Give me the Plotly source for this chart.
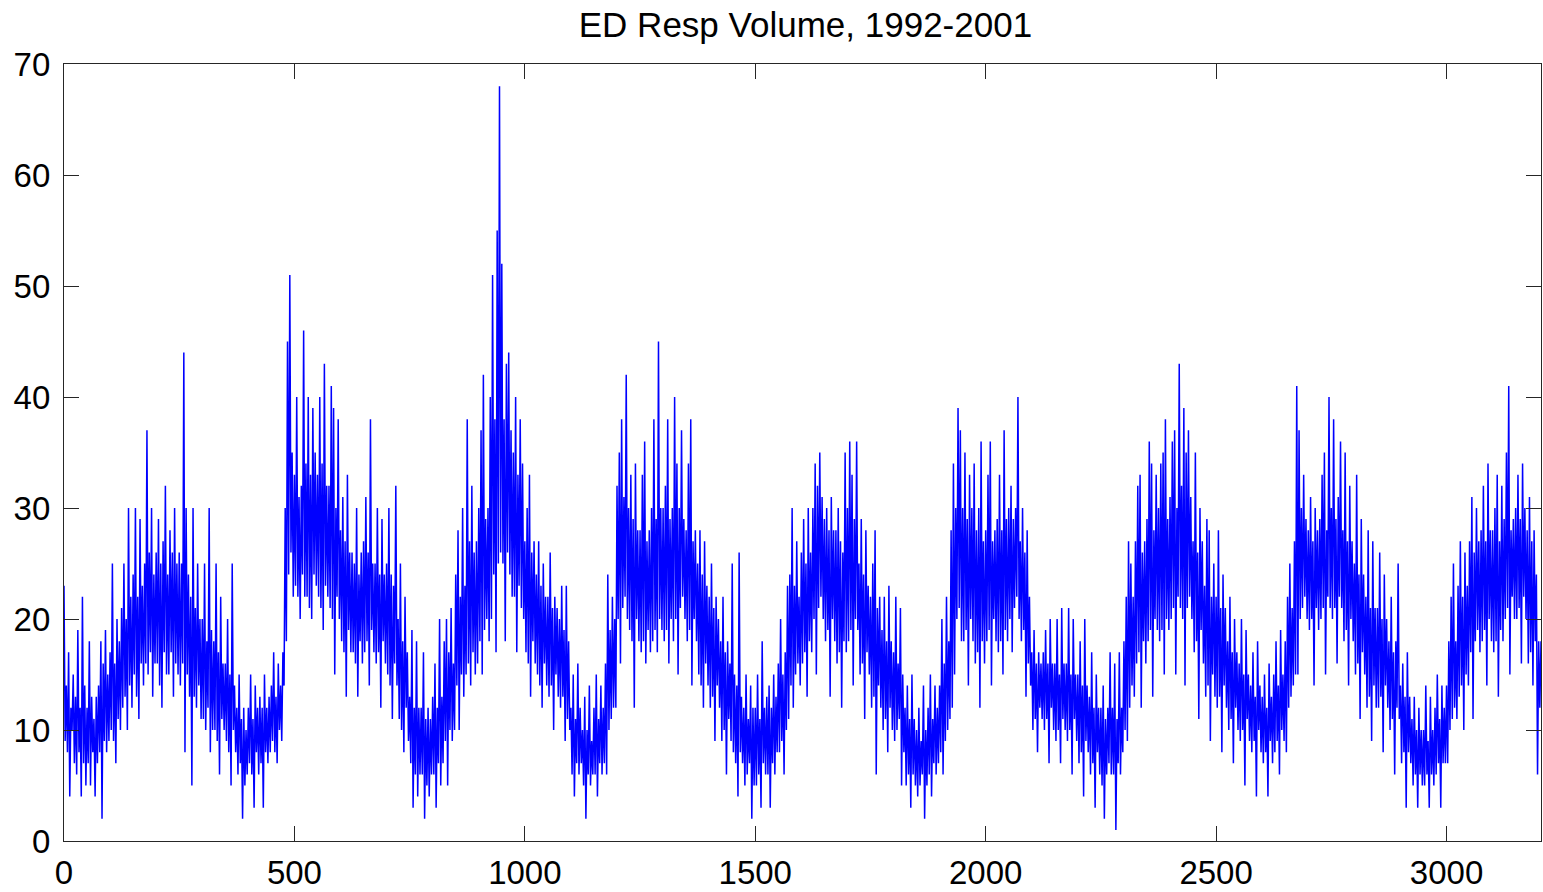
import plotly.graph_objects as go

# ED respiratory volume every 2.5 days (alternating local highs / lows)
volume = [
    23, 9, 14, 8, 17, 4, 12, 10, 15, 7,
    13, 6, 19, 8, 12, 4, 22, 7, 14, 5,
    12, 7, 18, 5, 13, 8, 11, 4, 13, 7,
    14, 8, 18, 2, 16, 9, 19, 8, 15, 9,
    17, 10, 25, 9, 16, 7, 20, 11, 18, 10,
    21, 12, 25, 13, 20, 10, 30, 14, 22, 12,
    24, 15, 30, 13, 22, 11, 29, 16, 23, 14,
    25, 16, 37, 15, 26, 17, 30, 13, 24, 16,
    26, 16, 29, 14, 25, 12, 27, 17, 32, 15,
    24, 15, 28, 17, 26, 13, 30, 16, 25, 15,
    26, 14, 25, 16, 44, 8, 30, 15, 24, 13,
    22, 5, 30, 13, 21, 12, 25, 14, 20, 11,
    20, 11, 25, 10, 18, 12, 30, 8, 19, 10,
    18, 10, 25, 9, 17, 6, 22, 11, 16, 10,
    16, 9, 20, 8, 15, 5, 25, 10, 14, 8,
    12, 6, 15, 7, 11, 2, 12, 5, 10, 6,
    12, 7, 15, 6, 11, 3, 14, 8, 12, 6,
    13, 7, 12, 3, 15, 8, 12, 7, 13, 8,
    14, 9, 17, 8, 13, 7, 16, 10, 14, 9,
    17, 14, 30, 18, 45, 24, 51, 26, 35, 22,
    33, 23, 40, 22, 31, 20, 32, 24, 46, 22,
    34, 22, 40, 21, 33, 20, 39, 24, 35, 23,
    33, 22, 40, 21, 34, 19, 43, 23, 32, 22,
    32, 21, 41, 20, 39, 15, 30, 22, 38, 20,
    28, 18, 31, 17, 27, 13, 33, 19, 26, 17,
    26, 17, 25, 16, 30, 13, 24, 18, 26, 16,
    27, 17, 31, 18, 26, 14, 38, 19, 25, 17,
    25, 16, 30, 17, 24, 12, 29, 18, 24, 16,
    25, 15, 30, 14, 24, 11, 23, 16, 32, 14,
    20, 11, 25, 10, 18, 8, 22, 12, 17, 9,
    13, 7, 19, 3, 12, 6, 18, 4, 12, 6,
    12, 6, 17, 2, 11, 5, 12, 4, 11, 6,
    13, 6, 16, 3, 12, 7, 20, 5, 13, 7,
    18, 9, 20, 5, 17, 10, 21, 9, 16, 10,
    24, 14, 28, 10, 22, 15, 30, 13, 23, 15,
    38, 16, 27, 14, 32, 17, 26, 15, 27, 16,
    30, 18, 37, 15, 42, 19, 29, 20, 30, 18,
    40, 20, 51, 24, 38, 17, 55, 25, 68, 26,
    52, 25, 38, 18, 43, 26, 44, 24, 37, 22,
    35, 22, 40, 17, 33, 23, 38, 21, 34, 20,
    27, 17, 30, 16, 33, 13, 26, 18, 27, 16,
    24, 15, 27, 14, 23, 12, 25, 16, 22, 14,
    22, 13, 26, 14, 21, 10, 22, 15, 21, 13,
    20, 12, 23, 13, 19, 9, 23, 11, 18, 10,
    12, 6, 15, 4, 11, 7, 16, 6, 12, 7,
    10, 5, 13, 2, 10, 6, 14, 5, 9, 6,
    12, 6, 15, 4, 11, 7, 14, 6, 12, 7,
    16, 6, 24, 10, 19, 11, 22, 12, 20, 12,
    32, 20, 35, 16, 38, 21, 31, 22, 42, 20,
    30, 19, 33, 18, 29, 12, 34, 20, 28, 18,
    28, 17, 33, 18, 36, 16, 27, 19, 28, 17,
    30, 18, 38, 19, 29, 17, 45, 20, 30, 19,
    30, 18, 32, 19, 38, 16, 29, 20, 30, 18,
    40, 20, 34, 15, 30, 21, 37, 22, 29, 20,
    28, 18, 34, 19, 38, 14, 27, 20, 28, 18,
    25, 15, 28, 14, 24, 12, 27, 16, 23, 14,
    22, 12, 25, 13, 21, 9, 22, 14, 20, 12,
    18, 9, 22, 10, 17, 6, 18, 11, 16, 9,
    25, 8, 15, 7, 14, 4, 26, 8, 13, 7,
    12, 5, 15, 6, 11, 7, 14, 2, 12, 5,
    12, 5, 15, 6, 11, 3, 18, 7, 12, 6,
    13, 6, 14, 3, 12, 7, 15, 6, 13, 8,
    16, 8, 20, 9, 15, 6, 17, 10, 23, 11,
    24, 14, 30, 12, 23, 15, 27, 16, 22, 14,
    26, 16, 29, 17, 25, 13, 30, 18, 26, 17,
    30, 20, 34, 15, 32, 21, 35, 22, 31, 20,
    29, 18, 30, 19, 28, 13, 31, 20, 28, 18,
    28, 16, 30, 17, 27, 12, 26, 18, 35, 17,
    30, 18, 36, 19, 33, 14, 29, 20, 36, 19,
    25, 15, 29, 16, 24, 11, 28, 17, 23, 15,
    22, 12, 25, 13, 28, 6, 21, 14, 22, 12,
    19, 10, 22, 11, 18, 8, 23, 12, 18, 10,
    17, 9, 22, 10, 16, 11, 21, 5, 15, 8,
    12, 5, 14, 6, 11, 3, 15, 6, 11, 5,
    10, 4, 12, 5, 9, 6, 14, 2, 10, 5,
    12, 6, 15, 4, 11, 7, 14, 6, 12, 7,
    14, 8, 20, 6, 16, 9, 22, 10, 18, 11,
    28, 12, 34, 15, 30, 20, 39, 21, 37, 18,
    30, 18, 35, 19, 29, 14, 33, 20, 30, 18,
    34, 16, 28, 17, 30, 12, 36, 18, 27, 16,
    28, 18, 33, 19, 36, 14, 27, 20, 28, 18,
    29, 17, 33, 18, 28, 15, 37, 19, 29, 18,
    30, 20, 32, 17, 29, 21, 30, 22, 40, 20,
    27, 18, 30, 19, 26, 13, 28, 16, 22, 14,
    17, 10, 19, 11, 16, 8, 17, 12, 16, 11,
    17, 10, 19, 11, 16, 7, 20, 12, 16, 10,
    16, 9, 20, 10, 15, 7, 21, 11, 16, 10,
    16, 9, 21, 10, 15, 6, 20, 11, 15, 9,
    15, 7, 18, 8, 14, 4, 20, 9, 14, 8,
    13, 6, 17, 7, 12, 3, 15, 8, 12, 6,
    12, 5, 14, 2, 11, 6, 12, 7, 17, 6,
    12, 6, 16, 1, 11, 7, 17, 6, 12, 8,
    18, 10, 22, 9, 27, 12, 25, 14, 22, 13,
    27, 16, 32, 17, 33, 12, 26, 18, 27, 16,
    29, 18, 36, 19, 34, 13, 28, 20, 33, 19,
    30, 18, 34, 19, 35, 15, 38, 20, 29, 19,
    31, 20, 36, 21, 37, 15, 30, 22, 43, 21,
    32, 20, 39, 14, 35, 21, 37, 22, 31, 20,
    27, 17, 35, 18, 26, 11, 30, 19, 27, 16,
    23, 13, 29, 14, 28, 9, 22, 15, 25, 13,
    22, 12, 28, 13, 21, 8, 24, 14, 21, 12,
    18, 10, 22, 11, 17, 7, 20, 12, 17, 10,
    16, 9, 20, 10, 15, 5, 19, 11, 15, 9,
    14, 8, 17, 9, 13, 4, 18, 10, 14, 8,
    13, 7, 15, 8, 12, 4, 16, 9, 13, 7,
    15, 8, 18, 9, 14, 6, 19, 10, 15, 9,
    18, 8, 22, 12, 25, 13, 21, 14, 27, 15,
    41, 15, 37, 20, 30, 21, 33, 22, 29, 20,
    28, 19, 31, 20, 27, 14, 30, 21, 28, 19,
    29, 20, 33, 21, 35, 15, 28, 22, 40, 21,
    30, 20, 38, 21, 29, 16, 31, 22, 36, 21,
    28, 18, 35, 19, 27, 14, 32, 20, 27, 18,
    25, 15, 33, 16, 24, 11, 29, 17, 24, 15,
    22, 12, 28, 13, 21, 9, 27, 14, 21, 12,
    21, 12, 26, 13, 20, 8, 24, 14, 20, 12,
    18, 10, 22, 11, 17, 6, 18, 12, 25, 11,
    14, 7, 16, 8, 13, 3, 17, 8, 13, 7,
    11, 5, 13, 6, 10, 3, 12, 6, 10, 5,
    10, 5, 14, 6, 9, 3, 13, 6, 10, 5,
    12, 6, 15, 7, 11, 3, 14, 7, 12, 7,
    14, 7, 18, 10, 22, 11, 25, 12, 18, 11,
    23, 13, 27, 14, 22, 10, 26, 15, 23, 14,
    27, 17, 31, 11, 26, 18, 30, 19, 27, 17,
    28, 18, 32, 19, 27, 14, 34, 20, 28, 18,
    28, 17, 30, 18, 33, 13, 27, 19, 32, 18,
    29, 20, 35, 21, 41, 15, 28, 22, 29, 20,
    30, 20, 33, 21, 29, 16, 34, 22, 30, 20,
    28, 16, 31, 17, 27, 14, 28, 18, 24, 6,
    18, 12, 18,
]
step_days = 2.5
days = [i * step_days for i in range(len(volume))]

title_text = "ED Resp Volume, 1992-2001"
x_ticks = [0, 500, 1000, 1500, 2000, 2500, 3000]
y_ticks = [0, 10, 20, 30, 40, 50, 60, 70]

font_family = "Arial, Liberation Sans, Helvetica, sans-serif"

fig = go.Figure()
fig.add_trace(go.Scatter(
    x=days, y=volume, mode="lines",
    line=dict(color="#0000FF", width=1.5),
    showlegend=False, hoverinfo="skip",
))

axis_common = dict(
    showgrid=False, zeroline=False,
    showline=True, linecolor="#262626", linewidth=1.3,
    ticks="inside", ticklen=15, tickwidth=1.3, tickcolor="#262626",
    mirror="ticks",
    tickfont=dict(family=font_family, size=33, color="black"),
)

fig.update_layout(
    width=1543, height=892,
    margin=dict(l=64, r=1, t=64, b=47),
    paper_bgcolor="white", plot_bgcolor="white",
    title=dict(text=title_text, x=0.522, xanchor="center", y=0.972, yanchor="middle",
               font=dict(family=font_family, size=35, color="black")),
    xaxis=dict(range=[0, 3205], tickvals=x_ticks, ticklabelstandoff=2, **axis_common),
    yaxis=dict(range=[0, 70], tickvals=y_ticks, ticklabelstandoff=6, **axis_common),
)

fig.write_html("out.html")
